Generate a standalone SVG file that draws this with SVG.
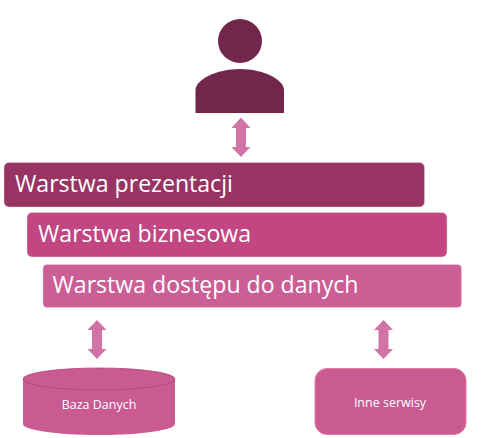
<svg xmlns="http://www.w3.org/2000/svg" width="498" height="438" viewBox="0 0 498 438">
<style>
.layer{stroke:#eccfdc;stroke-width:.5}
.big{font-family:"Open Sans","Noto Sans",sans-serif;font-size:23.1px;fill:#fff}
.small{font-family:"Open Sans","Noto Sans",sans-serif;font-size:12.5px;fill:#fff;text-anchor:middle}
.arrow{fill:#d173a5}
</style>
<rect width="498" height="438" fill="#fff"/>
<g id="user">
<circle cx="240" cy="41" r="22" fill="#72264c"/>
<path d="M195.500 113V90C195.500 80 216 69 240 69C264 69 284 80 284 90V113Z" fill="#72264c"/>
</g>
<g id="connectors">
<path class="arrow" d="M241 117.500L250.500 128H246V147H250.500L241 157L231.500 147H236V128H231.500Z"/>
<path class="arrow" d="M97 320L106.500 330H102V349H106.500L97 359L87.500 349H92V330H87.500Z"/>
<path class="arrow" d="M383.500 320L393 330H388.500V349H393L383.500 359L374 349H378.500V330H374Z"/>
</g>
<g id="warstwa-prezentacji">
<rect class="layer" x="4" y="162.500" width="420.500" height="44.500" rx="5" fill="#983464"/>
<text class="big" x="15" y="192">Warstwa prezentacji</text>
</g>
<g id="warstwa-biznesowa">
<rect class="layer" x="27" y="212.500" width="420" height="44.500" rx="5" fill="#c14682"/>
<text class="big" x="38" y="242">Warstwa biznesowa</text>
</g>
<g id="warstwa-dostepu">
<rect class="layer" x="43" y="264.500" width="418.500" height="43" rx="4" fill="#cb5e95"/>
<text class="big" x="52.500" y="293">Warstwa dostępu do danych</text>
</g>
<g id="baza-danych">
<path d="M23 379V424C23 430 57 435 99 435C141 435 175 430 175 424V379Z" fill="#c95a92"/>
<ellipse cx="99" cy="379" rx="76" ry="11" fill="#c95a92" stroke="#b04279" stroke-width=".8"/>
<text class="small" x="99" y="409">Baza Danych</text>
</g>
<g id="inne-serwisy">
<rect x="315" y="368.500" width="151" height="66" rx="12" fill="#c95a92" stroke="#e67a9c" stroke-width="1"/>
<text class="small" x="390" y="407">Inne serwisy</text>
</g>
</svg>
